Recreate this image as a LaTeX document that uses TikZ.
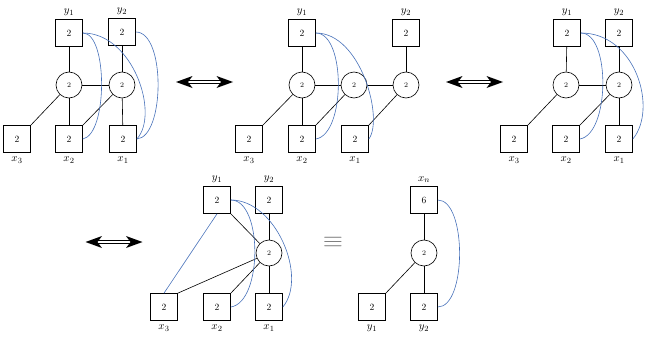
\documentclass[tikz,border=0pt]{standalone}
\usetikzlibrary{arrows.meta}
\definecolor{blueline}{RGB}{70,112,185}
\definecolor{eqgray}{RGB}{110,110,110}
\begin{document}
\begin{tikzpicture}[x=1pt,y=-1pt,
  sq/.style={draw, line width=0.7pt, minimum size=27pt, inner sep=0pt, font=\fontsize{9.5}{9.5}\selectfont},
  cir/.style={draw, circle, line width=0.6pt, minimum size=26pt, inner sep=0pt, font=\fontsize{7}{7}\selectfont},
  lab/.style={inner sep=0pt, font=\fontsize{11}{11}\selectfont},
  up/.style={label={[lab,label distance=3pt]above:#1}},
  dn/.style={label={[lab,label distance=4pt]below:#1}},
  edge/.style={line width=0.6pt},
  bl/.style={draw=blueline, line width=0.6pt},
  dbar/.pic={
    \fill (-28.5,0) -- (-12,-6) -- (-16.5,0) -- (-12,6) -- cycle;
    \fill (28.5,0) -- (12,-6) -- (16.5,0) -- (12,6) -- cycle;
    \draw[line width=0.9pt] (-17,-1.6) -- (17,-1.6) (-17,1.6) -- (17,1.6);
  }
]
\useasboundingbox (0,0) rectangle (646,340);

% ---------- Panel A ----------
\node[sq,up={$y_1$}] (Ay1) at (69,33) {2};
\node[sq,up={$y_2$}] (Ay2) at (122,32) {2};
\node[cir] (Ac1) at (69,85) {2};
\node[cir] (Ac2) at (122,85) {2};
\node[sq,dn={$x_3$}] (Ax3) at (17,139) {2};
\node[sq,dn={$x_2$}] (Ax2) at (69,139) {2};
\node[sq,dn={$x_1$}] (Ax1) at (123,139) {2};
\draw[edge] (Ay1) -- (Ac1);
\draw[edge] (Ay2) -- (Ac2);
\draw[edge] (Ac1) -- (Ac2);
\draw[edge] (Ac1) -- (Ax2);
\draw[edge] (Ac2) -- (Ax1);
\draw[edge] (Ax3.north east) -- (Ac1);
\draw[edge] (Ax2.north east) -- (Ac2);
\draw[bl] (Ay1.east) .. controls +(25,0) and +(25,-5) .. (Ax2.east);
\draw[bl] (Ay1.east) .. controls +(50,0) and +(23,-25) .. (Ax1.east);
\draw[bl] (Ay2.east) .. controls +(30,0) and +(28,-2) .. (Ax1.east);

% arrow 1
\pic at (204.5,82) {dbar};

% ---------- Panel B ----------
\node[sq,up={$y_1$}] (By1) at (302,33) {2};
\node[sq,up={$y_2$}] (By2) at (406,33) {2};
\node[cir] (Bc1) at (302,85) {2};
\node[cir] (Bc2) at (354,85) {2};
\node[cir] (Bc3) at (406,85) {2};
\node[sq,dn={$x_3$}] (Bx3) at (249,139) {2};
\node[sq,dn={$x_2$}] (Bx2) at (302,139) {2};
\node[sq,dn={$x_1$}] (Bx1) at (355,139) {2};
\draw[edge] (By1) -- (Bc1);
\draw[edge] (By2) -- (Bc3);
\draw[edge] (Bc1) -- (Bc2);
\draw[edge] (Bc2) -- (Bc3);
\draw[edge] (Bc1) -- (Bx2);
\draw[edge] (Bx3.north east) -- (Bc1);
\draw[edge] (Bx2.north east) -- (Bc2);
\draw[edge] (Bx1.north east) -- (Bc3);
\draw[bl] (By1.east) .. controls +(30,0) and +(30,-5) .. (Bx2.east);
\draw[bl] (By1.east) .. controls +(45,0) and +(15,-20) .. (Bx1.east);

% arrow 2
\pic at (474.5,82) {dbar};

% ---------- Panel C ----------
\node[sq,up={$y_1$}] (Cy1) at (567,33) {2};
\node[sq,up={$y_2$}] (Cy2) at (619,33) {2};
\node[cir] (Cc1) at (566,85) {2};
\node[cir] (Cc2) at (619,85) {2};
\node[sq,dn={$x_3$}] (Cx3) at (514,139) {2};
\node[sq,dn={$x_2$}] (Cx2) at (566,139) {2};
\node[sq,dn={$x_1$}] (Cx1) at (619,139) {2};
\draw[edge] (Cy1) -- (Cc1);
\draw[edge] (Cy2) -- (Cc2);
\draw[edge] (Cc1) -- (Cc2);
\draw[edge] (Cc2) -- (Cx1);
\draw[edge] (Cx3.north east) -- (Cc1);
\draw[edge] (Cx2.north east) -- (Cc2);
\draw[bl] (Cy1.east) .. controls +(30,0) and +(30,-5) .. (Cx2.east);
\draw[bl] (Cy1.east) .. controls +(55,0) and +(25,-30) .. (Cx1.east);

% arrow 3
\pic at (114,242) {dbar};

% ---------- Panel D ----------
\node[sq,up={$y_1$}] (Dy1) at (217,200) {2};
\node[sq,up={$y_2$}] (Dy2) at (269,200) {2};
\node[cir] (Dc) at (269,253) {2};
\node[sq,dn={$x_3$}] (Dx3) at (164,307) {2};
\node[sq,dn={$x_2$}] (Dx2) at (217,307) {2};
\node[sq,dn={$x_1$}] (Dx1) at (269,307) {2};
\draw[edge] (Dy1.south east) -- (Dc);
\draw[edge] (Dy2) -- (Dc);
\draw[edge] (Dc) -- (Dx1);
\draw[edge] (Dx3.north east) -- (Dc);
\draw[edge] (Dx2.north east) -- (Dc);
\draw[bl] (Dy1.south) -- (Dx3.north);
\draw[bl] (Dy1.east) .. controls +(32,0) and +(32,-5) .. (Dx2.east);
\draw[bl] (Dy1.east) .. controls +(45,0) and +(25,-30) .. (Dx1.east);

% equivalence
\node[inner sep=0pt, text=eqgray] (eq) at (333,242) {\scalebox{2.6}[2.2]{$\equiv$}};

% ---------- Panel E ----------
\node[sq,up={$x_n$}] (Exn) at (424,200) {6};
\node[cir] (Ec) at (424,253) {2};
\node[sq,dn={$y_1$}] (Ey1) at (372,307) {2};
\node[sq,dn={$y_2$}] (Ey2) at (424,307) {2};
\draw[edge] (Exn) -- (Ec);
\draw[edge] (Ec) -- (Ey2);
\draw[edge] (Ey1.north east) -- (Ec);
\draw[bl] (Exn.east) .. controls +(29,0) and +(29,0) .. (Ey2.east);
\end{tikzpicture}
\end{document}
